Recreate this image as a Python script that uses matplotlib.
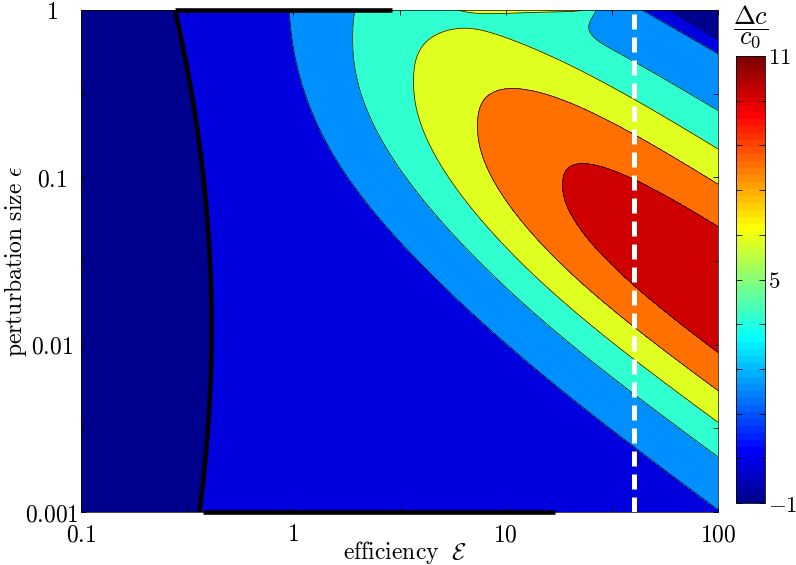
# Contour map of the concentration change over efficiency and perturbation size
import numpy as np
import matplotlib
matplotlib.use('Agg')
import matplotlib.pyplot as plt
from matplotlib.colors import Normalize, ListedColormap
from matplotlib.cm import ScalarMappable

plt.rcParams['mathtext.fontset'] = 'cm'
plt.rcParams['font.family'] = 'DejaVu Serif'

# Chart values
contour_levels = [-1, 0, 2, 4, 6, 8, 10, 12]
color_limits = [-1, 11]
cbar_ticks = [-1, 0.2, 1.4, 2.6, 3.8, 5, 6.2, 7.4, 8.6, 9.8, 11]
cbar_labels = ['$-1$', '', '', '', '', '$5$', '', '', '', '', '$11$']
x_ticks = [0.1, 1, 10, 100]
x_labels = ['$0.1$', '$1$', '$10$', '$100$']
y_ticks = [0.001, 0.01, 0.1, 1]
y_labels = ['$0.001$', '$0.01$', '$0.1$', '$1$']
marked_efficiency = 40          # white dashed line
top_edge_segment = [0.277, 2.92]     # black line along eps = 1
bottom_edge_segment = [0.374, 17.0]  # black line along eps = 0.001


# Surface (log10 coordinates u = log E, v = log eps)
def delta_c(u, v):
    u0 = -0.385 - 0.047 * (v + 1.9) ** 2           # zero line on the left
    base = np.tanh(3.0 * (u - u0))
    vc = 0.07 - 0.88 * u                           # ridge centre
    lin = 0.7 * np.log1p(np.exp((u + 0.15) / 0.1))
    amp = lin / (1 + (lin / 10.3) ** 6) ** (1 / 6)
    w = np.where(v > vc, 0.80 + 0.10 * u, 0.83 + 0.035 * u)
    ridge = amp * np.exp(-np.abs((v - vc) / w) ** 2.3)
    # small bump and steep drop along eps = 1
    ramp = 0.45 * np.log1p(np.exp((u - 0.6) / 0.1)) / (1 + np.exp((u - 1.41) / 0.025))
    bump = ramp * np.exp(v / 0.06)
    cliff = -1.67 * np.exp(np.minimum((v + 0.765 * (u - 1.77)) / 0.024, 10))
    return np.clip(base + ridge + bump + cliff, -1, 12)


# matlab style jet with 64 entries
def matlab_jet(n=64):
    m = n // 4
    ramp = np.concatenate([np.arange(1, m + 1) / m, np.ones(m - 1), np.arange(m, 0, -1) / m])
    g_idx = int(np.ceil(m / 2)) - int(n % 4 == 1) + np.arange(1, len(ramp) + 1)
    cm = np.zeros((n, 3))
    for ch, idx in ((0, g_idx + m), (1, g_idx), (2, g_idx - m)):
        ok = (idx >= 1) & (idx <= n)
        cm[idx[ok] - 1, ch] = ramp[ok]
    return ListedColormap(cm)


u = np.linspace(-1, 2, 600)
v = np.linspace(-3, 0, 600)
U, V = np.meshgrid(u, v)
Z = delta_c(U, V)
E, EPS = 10 ** U, 10 ** V

# Plotting
fig = plt.figure(figsize=(7.96, 5.65), dpi=100)
ax = fig.add_axes([81 / 796, 1 - 512 / 565, 637 / 796, 502 / 565])

jet = matlab_jet(64)
norm = Normalize(vmin=color_limits[0], vmax=color_limits[1])
span = color_limits[1] - color_limits[0]
fill_colors = [jet.colors[min(int((l - color_limits[0]) / span * 64), 63)]
               for l in contour_levels[:-1]]
ax.contourf(E, EPS, Z, levels=contour_levels, colors=fill_colors)
ax.contour(E, EPS, Z, levels=contour_levels[1:-1], colors='k', linewidths=0.5)

# thick boundary on the left
Zl = np.ma.masked_where(U > 0.5, Z)
ax.contour(E, EPS, Zl, levels=[0], colors='k', linewidths=3.3)
ax.plot(top_edge_segment, [1, 1], color='k', lw=3.3, clip_on=False, solid_capstyle='butt')
ax.plot(bottom_edge_segment, [0.001, 0.001], color='k', lw=3.3, clip_on=False,
        solid_capstyle='butt')

ax.axvline(marked_efficiency, color='white', lw=3.6, dashes=(3.0, 1.6))

ax.set_xscale('log')
ax.set_yscale('log')
ax.set_xlim(0.1, 100)
ax.set_ylim(0.001, 1)
ax.set_xticks(x_ticks)
ax.set_xticklabels(x_labels)
ax.set_yticks(y_ticks)
ax.set_yticklabels(y_labels)
ax.set_xticks([10 ** -0.5, 10 ** 0.5, 10 ** 1.5], minor=True)
ax.set_yticks([10 ** -2.5, 10 ** -1.5, 10 ** -0.5], minor=True)
ax.set_xticklabels([], minor=True)
ax.set_yticklabels([], minor=True)
ax.tick_params(which='both', direction='in', top=True, right=True, length=3.5,
               width=0.6, labelsize=17)
ax.tick_params(axis='x', pad=8)
ax.tick_params(axis='y', pad=21)
for lab in ax.get_yticklabels():
    lab.set_ha('center')
for s in ax.spines.values():
    s.set_linewidth(0.5)
fig.text(405 / 796, 1 - 553 / 565, r'$\mathrm{efficiency}\ \ \mathcal{E}$',
         fontsize=17, ha='center', va='center')
fig.text(16 / 796, 1 - 261 / 565, r'$\mathrm{perturbation\ size}\ \epsilon$',
         fontsize=17, ha='center', va='center', rotation=90)

# colorbar
cax = fig.add_axes([736 / 796, 1 - 503 / 565, 29 / 796, 447 / 565])
cb = fig.colorbar(ScalarMappable(norm=norm, cmap=jet), cax=cax)
cb.set_ticks(cbar_ticks)
cb.set_ticklabels(cbar_labels)
cb.minorticks_off()
cax.tick_params(direction='in', left=True, right=True, length=4, width=0.6,
                labelsize=16.5, pad=2)
cb.outline.set_linewidth(0.6)
fig.text(751 / 796, 1 - 27 / 565, r'$\dfrac{\Delta c}{c_0}$', ha='center', va='center',
         fontsize=19)

fig.savefig('out.png', dpi=100)
